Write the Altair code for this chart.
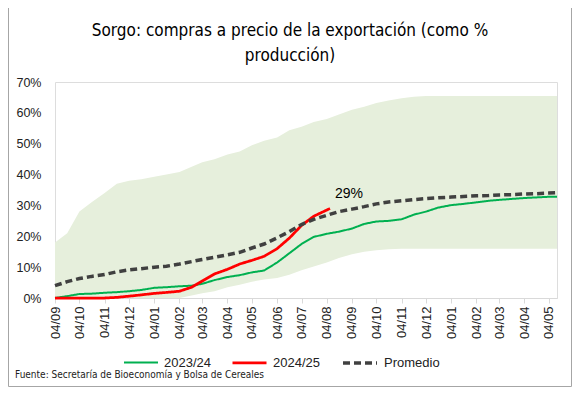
import altair as alt
import pandas as pd

# ---- data (percent of production) ----
month_list = [(2024, 9), (2024, 10), (2024, 11), (2024, 12), (2025, 1), (2025, 2), (2025, 3),
              (2025, 4), (2025, 5), (2025, 6), (2025, 7), (2025, 8), (2025, 9), (2025, 10),
              (2025, 11), (2025, 12), (2026, 1), (2026, 2), (2026, 3), (2026, 4), (2026, 5)]
tick_dates = [f"{y}-{m:02d}-04" for y, m in month_list]
grid_dates = []
for y, m in month_list:
    grid_dates.append(f"{y}-{m:02d}-04")
    grid_dates.append(f"{y}-{m:02d}-19")
grid_dates = grid_dates[:-1] + ["2026-05-14"]

band_hi = [18, 21, 28, 31, 34, 37, 38, 38.5, 39.3, 40, 40.8, 42.5, 44, 45, 46.5, 47.5, 49.5, 51,
           52, 54.4, 55.5, 57, 58, 59.5, 61, 62, 63.2, 64, 64.7, 65.2,
           65.5, 65.5, 65.5, 65.5, 65.5, 65.5, 65.5, 65.5, 65.5, 65.5, 65.5, 65.5]
band_lo = [0, 0, 0, 0, 0, 0, 0, 0, 0, 0, 0,
           0.8, 1.5, 2.2, 3.5, 4.3, 5.3, 6, 6.5, 7.5, 9, 10.2, 11.5, 13, 14.2, 15, 15.5, 15.8,
           16, 16, 16, 16, 16, 16, 16, 16, 16, 16, 16, 16, 16, 16]
s2324 = [0, 0.6, 1.3, 1.4, 1.7, 1.9, 2.2, 2.6, 3.3, 3.5, 3.8, 4.0, 4.6, 5.8, 6.8, 7.4, 8.3, 8.9,
         11.5, 14.5, 17.5, 19.8, 20.8, 21.5, 22.5, 24, 24.8, 25, 25.5, 27, 28, 29.3, 30.1, 30.5,
         31, 31.5, 31.8, 32.1, 32.4, 32.6, 32.8, 32.8]
s2425 = [0, 0, 0, 0, 0, 0.2, 0.6, 1.0, 1.5, 1.8, 2.2, 3.5, 5.5, 7.8, 9.3, 11, 12.2, 13.5, 16,
         19.4, 23.5, 26.5, 28.5, 29]
s2425_dates = grid_dates[:23] + ["2025-08-08"]
promedio = [4, 5.3, 6.3, 7, 7.6, 8.5, 9.1, 9.5, 10, 10.3, 11, 11.8, 12.5, 13.2, 14, 14.8, 16.2,
            17.5, 19.5, 21.5, 23.8, 25.5, 26.8, 28, 28.8, 29.6, 30.5, 31.1, 31.5, 31.9, 32.2,
            32.5, 32.7, 32.9, 33.1, 33.2, 33.4, 33.5, 33.7, 33.8, 34, 34.1]

series_names = ["2023/24", "2024/25", "Promedio"]
series_colors = ["#00b050", "#ff0000", "#404040"]
last_label = "29%"
source_text = "Fuente: Secretaría de Bioeconomía y Bolsa de Cereales"
title_line1 = "Sorgo: compras a precio de la exportación (como %"
title_line2 = "producción)"

# ---- tables ----
band_df = pd.DataFrame({"fecha": grid_dates, "lo": band_lo, "hi": band_hi})
lines_df = pd.concat([
    pd.DataFrame({"fecha": grid_dates, "valor": s2324, "serie": "2023/24"}),
    pd.DataFrame({"fecha": s2425_dates, "valor": s2425, "serie": "2024/25"}),
    pd.DataFrame({"fecha": grid_dates, "valor": promedio, "serie": "Promedio"}),
], ignore_index=True)
label_df = pd.DataFrame({"fecha": [s2425_dates[-1]], "valor": [s2425[-1]], "txt": [last_label]})

def ms(d):
    return int(pd.Timestamp(d).value // 10**6)

x_scale = alt.Scale(type="utc", domain=[ms(grid_dates[0]), ms(grid_dates[-1])], nice=False)
y_scale = alt.Scale(domain=[0, 70], nice=False)

axis_font = "Liberation Sans, Arial, sans-serif"
narrow = "Liberation Sans Narrow, Arial Narrow, DejaVu Sans Condensed, sans-serif"

x_axis = alt.Axis(values=[ms(d) for d in tick_dates], labelExpr="utcFormat(datum.value, '%d/%m')",
                  labelAngle=270, labelFont=axis_font, labelFontSize=13,
                  labelColor="#222222", domainColor="#d9d9d9", tickColor="#d9d9d9",
                  tickSize=5, labelPadding=3, grid=False, labelOverlap=False)
y_axis = alt.Axis(values=[0, 10, 20, 30, 40, 50, 60, 70], labelExpr="datum.value + '%'",
                  labelFont=axis_font, labelFontSize=12.5, labelColor="#222222",
                  domain=False, ticks=False, grid=False, labelPadding=14)

x_enc = alt.X("fecha:T", scale=x_scale, title=None, axis=x_axis)
y_enc = alt.Y("valor:Q", scale=y_scale, title=None, axis=y_axis)

band = alt.Chart(band_df).mark_area(color="#e6efdc", opacity=1).encode(
    x=x_enc,
    y=alt.Y("lo:Q", scale=y_scale, title=None, axis=y_axis),
    y2="hi:Q",
)

legend = alt.Legend(title=None, orient="none", legendX=68, legendY=262, direction="horizontal",
                    symbolType="stroke", symbolSize=1156, labelFont=axis_font, labelFontSize=13,
                    labelColor="#222222", columnPadding=16, labelOffset=5)

lines = alt.Chart(lines_df).mark_line(interpolate="linear").encode(
    x=x_enc,
    y=y_enc,
    color=alt.Color("serie:N", scale=alt.Scale(domain=series_names, range=series_colors), legend=legend),
    strokeDash=alt.StrokeDash("serie:N", scale=alt.Scale(domain=series_names,
                                                         range=[[1, 0], [1, 0], [7, 4]]), legend=legend),
    strokeWidth=alt.StrokeWidth("serie:N", scale=alt.Scale(domain=series_names, range=[2, 3.5, 3.5]),
                                legend=legend),
    order=alt.Order("fecha:T"),
)

label = alt.Chart(label_df).mark_text(align="left", baseline="middle", dx=5, dy=-15,
                                      font=axis_font, fontSize=14, color="#000000").encode(
    x=x_enc, y=y_enc, text="txt:N")

one = pd.DataFrame({"a": [0]})

title1 = alt.Chart(pd.DataFrame({"t": [title_line1]})).mark_text(
    align="center", baseline="alphabetic", font=narrow, fontSize=17, color="#000000").encode(
    x=alt.value(235), y=alt.value(-46), text="t:N")
title2 = alt.Chart(pd.DataFrame({"t": [title_line2]})).mark_text(
    align="center", baseline="alphabetic", font=narrow, fontSize=17, color="#000000").encode(
    x=alt.value(235), y=alt.value(-21), text="t:N")

source = alt.Chart(pd.DataFrame({"t": [source_text]})).mark_text(
    align="left", baseline="middle", font=narrow, fontSize=10, color="#222222").encode(
    x=alt.value(-40), y=alt.value(293), text="t:N")

frame_left = alt.Chart(one).mark_rule(color="#a6a6a6", strokeWidth=1).encode(
    x=alt.value(-46.5), y=alt.value(-74), y2=alt.value(304.5))
frame_right = alt.Chart(one).mark_rule(color="#a6a6a6", strokeWidth=1).encode(
    x=alt.value(516.5), y=alt.value(-74), y2=alt.value(304.5))
frame_bottom = alt.Chart(one).mark_rule(color="#a6a6a6", strokeWidth=1).encode(
    x=alt.value(-46.5), x2=alt.value(516.5), y=alt.value(304.5))

chart = alt.layer(band, lines, label, title1, title2, source,
                  frame_left, frame_right, frame_bottom).properties(
    width=502, height=216,
    autosize=alt.AutoSizeParams(type="none"),
    padding={"left": 47, "top": 74, "right": 15, "bottom": 89},
).configure_view(stroke=None).configure(background="white")

chart.save("out.html", embed_options={"renderer": "svg", "actions": False})
